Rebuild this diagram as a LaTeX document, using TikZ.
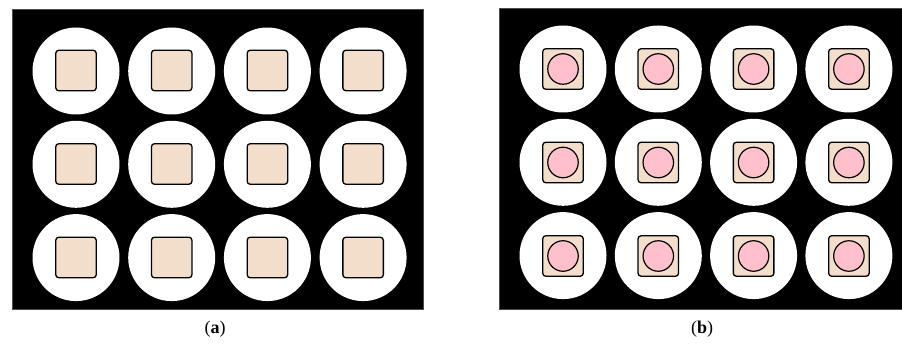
\documentclass[tikz,border=0pt]{standalone}
\usepackage{fontspec}
\setmainfont{Liberation Serif}
\definecolor{beige}{RGB}{242,222,202}
\definecolor{pinkc}{RGB}{255,192,203}
\begin{document}
\begin{tikzpicture}[x=1pt,y=-1pt,
  board/.style={fill=black,draw=black!70,line width=0.6pt},
  hole/.style={circle,fill=white,inner sep=0pt,minimum size=87pt},
  pad/.style={rectangle,rounded corners=3pt,fill=beige,draw=black,line width=1.3pt,minimum size=40.5pt,inner sep=0pt},
  dot/.style={circle,fill=pinkc,draw=black,line width=1.2pt,minimum size=30.5pt,inner sep=0pt},
  captext/.style={inner sep=0pt,font=\fontsize{18}{21}\selectfont}]
\useasboundingbox (0,0) rectangle (902,344);
\path[board] (12,9) rectangle (423,309.5);
\path[board] (499,8.5) rectangle (905,309.5);
\foreach \i in {0,...,3}{
  \foreach \j in {0,...,2}{
    \node[hole] (ha\i\j) at ({76+95.7*\i},{71+93.3*\j}) {};
    \node[pad] (pa\i\j) at ({76+95.7*\i},{70.5+93.5*\j}) {};
    \node[hole] (hb\i\j) at ({563+95.3*\i},{69+93.3*\j}) {};
    \node[pad] (pb\i\j) at ({563+95.3*\i},{69+93.5*\j}) {};
    \node[dot] (db\i\j) at (pb\i\j.center) {};
  }
}
\node[captext,anchor=base] (capa) at (215,334) {(\textbf{a})};
\node[captext,anchor=base] (capb) at (702,334) {(\textbf{b})};
\end{tikzpicture}
\end{document}
